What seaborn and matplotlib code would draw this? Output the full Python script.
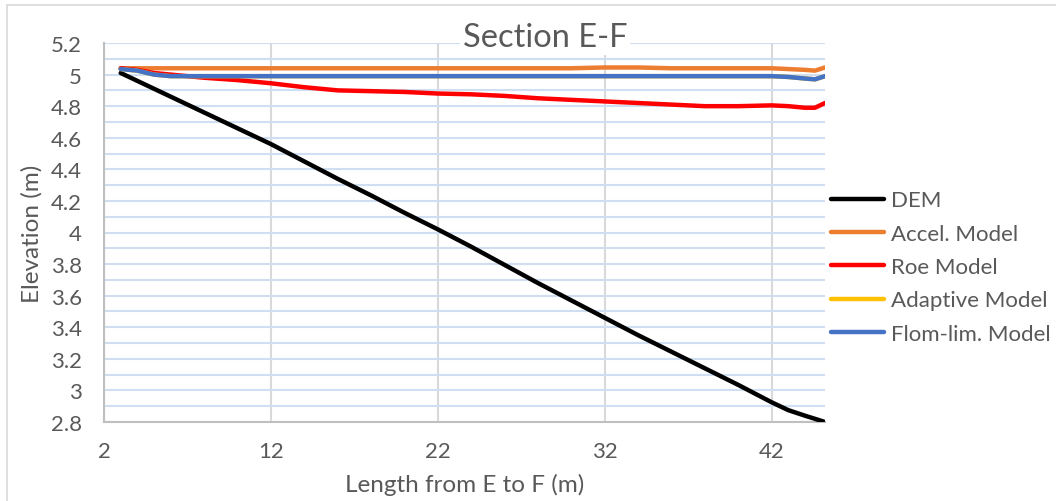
import matplotlib
matplotlib.use("Agg")
import matplotlib.pyplot as plt
import matplotlib.ticker as mticker
from matplotlib.lines import Line2D
import seaborn as sns
import pandas as pd

# ---- data ----
length_m = [3, 4, 5, 6, 7, 8, 10, 12, 14, 16, 18, 20, 22, 24, 26, 28, 30, 32,
            34, 36, 38, 40, 42, 43, 44, 44.6, 45.2]
dem = [5.01, 4.96, 4.91, 4.86, 4.81, 4.76, 4.66, 4.56, 4.45, 4.34, 4.235, 4.125,
       4.02, 3.91, 3.795, 3.68, 3.57, 3.46, 3.35, 3.245, 3.14, 3.035, 2.925, 2.875,
       2.84, 2.82, 2.80]
accel = [5.04, 5.04, 5.04, 5.04, 5.04, 5.04, 5.04, 5.04, 5.04, 5.04, 5.04, 5.04,
         5.04, 5.04, 5.04, 5.04, 5.04, 5.045, 5.045, 5.04, 5.04, 5.04, 5.04, 5.035,
         5.03, 5.025, 5.045]
roe = [5.04, 5.03, 5.01, 5.00, 4.99, 4.98, 4.965, 4.945, 4.92, 4.90, 4.895, 4.89,
       4.88, 4.875, 4.865, 4.85, 4.84, 4.83, 4.82, 4.81, 4.80, 4.80, 4.805, 4.80,
       4.79, 4.79, 4.82]
adaptive = [5.035, 5.025, 5.00, 4.99, 4.99, 4.99, 4.99, 4.99, 4.99, 4.99, 4.99,
            4.99, 4.99, 4.99, 4.99, 4.99, 4.99, 4.99, 4.99, 4.99, 4.99, 4.99,
            4.99, 4.985, 4.975, 4.97, 4.99]
flomlim = [5.035, 5.025, 5.00, 4.99, 4.99, 4.99, 4.99, 4.99, 4.99, 4.99, 4.99,
           4.99, 4.99, 4.99, 4.99, 4.99, 4.99, 4.99, 4.99, 4.99, 4.99, 4.99,
           4.99, 4.985, 4.975, 4.97, 4.99]

series_names = ["DEM", "Accel. Model", "Roe Model", "Adaptive Model", "Flom-lim. Model"]
series_colors = ["#000000", "#ED7D31", "#FF0000", "#FFC000", "#4472C4"]
x_ticks = [2, 12, 22, 32, 42]
y_ticks = [2.8, 3.0, 3.2, 3.4, 3.6, 3.8, 4.0, 4.2, 4.4, 4.6, 4.8, 5.0, 5.2]

df = pd.DataFrame({"Length": length_m, "DEM": dem, "Accel. Model": accel,
                   "Roe Model": roe, "Adaptive Model": adaptive,
                   "Flom-lim. Model": flomlim})
long = df.melt(id_vars="Length", var_name="Series", value_name="Elevation")

sns.set_theme(style="white")
plt.rcParams["font.family"] = ["Lato", "DejaVu Sans"]

fig = plt.figure(figsize=(10.56, 5.02), dpi=100)
ax = fig.add_axes([104 / 1056, 1 - 423 / 502, (825 - 104) / 1056, (423 - 44) / 502])

sns.lineplot(data=long, x="Length", y="Elevation", hue="Series",
             hue_order=series_names, palette=series_colors, linewidth=3.2,
             ax=ax, legend=False, zorder=3)
for ln in ax.lines:
    ln.set_solid_capstyle("round")
    ln.set_solid_joinstyle("round")

ax.set_xlim(2, 45.2)
ax.set_ylim(2.8, 5.2)
ax.set_xticks(x_ticks)
ax.set_yticks(y_ticks)
ax.yaxis.set_minor_locator(mticker.MultipleLocator(0.1))
ax.yaxis.set_major_formatter(mticker.FuncFormatter(lambda v, p: f"{v:g}"))
ax.grid(True, axis="y", which="both", color="#CFDFF1", linewidth=1.5, zorder=0)
ax.grid(True, axis="x", which="major", color="#D9D9D9", linewidth=1.5, zorder=0)
ax.set_axisbelow(True)
ax.tick_params(axis="both", which="both", length=0, labelsize=16,
               labelcolor="#595959")
ax.tick_params(axis="y", pad=16)
ax.tick_params(axis="x", pad=14)
for side in ["top", "right"]:
    ax.spines[side].set_visible(False)
for side in ["left", "bottom"]:
    ax.spines[side].set_color("#BFBFBF")
    ax.spines[side].set_linewidth(1.5)

ax.set_xlabel("Length from E to F (m)", fontsize=17.5, color="#595959", labelpad=8)
ax.set_ylabel("Elevation (m)", fontsize=17.5, color="#595959", labelpad=6)

fig.text(545 / 1056, 1 - 38 / 502, "Section E-F", fontsize=23.5, color="#595959",
         ha="center", va="center", zorder=5,
         bbox=dict(facecolor="white", edgecolor="none", pad=2))

handles = [Line2D([0], [0], color=c, lw=3.2) for c in series_colors]
fig.legend(handles, series_names, loc="center left",
           bbox_to_anchor=(822 / 1056, 1 - 268 / 502), frameon=False,
           fontsize=16, labelcolor="#595959", handlelength=2.4,
           handletextpad=0.3, labelspacing=0.6, borderaxespad=0)

# outer chart border (top and left edges visible in the reference)
fig.add_artist(Line2D([7 / 1056, 7 / 1056], [0, 1 - 6 / 502],
                      transform=fig.transFigure, color="#D9D9D9", lw=1.2))
fig.add_artist(Line2D([7 / 1056, 1], [1 - 6 / 502, 1 - 6 / 502],
                      transform=fig.transFigure, color="#D9D9D9", lw=1.2))

fig.savefig("out.png", dpi=100, facecolor="white")
